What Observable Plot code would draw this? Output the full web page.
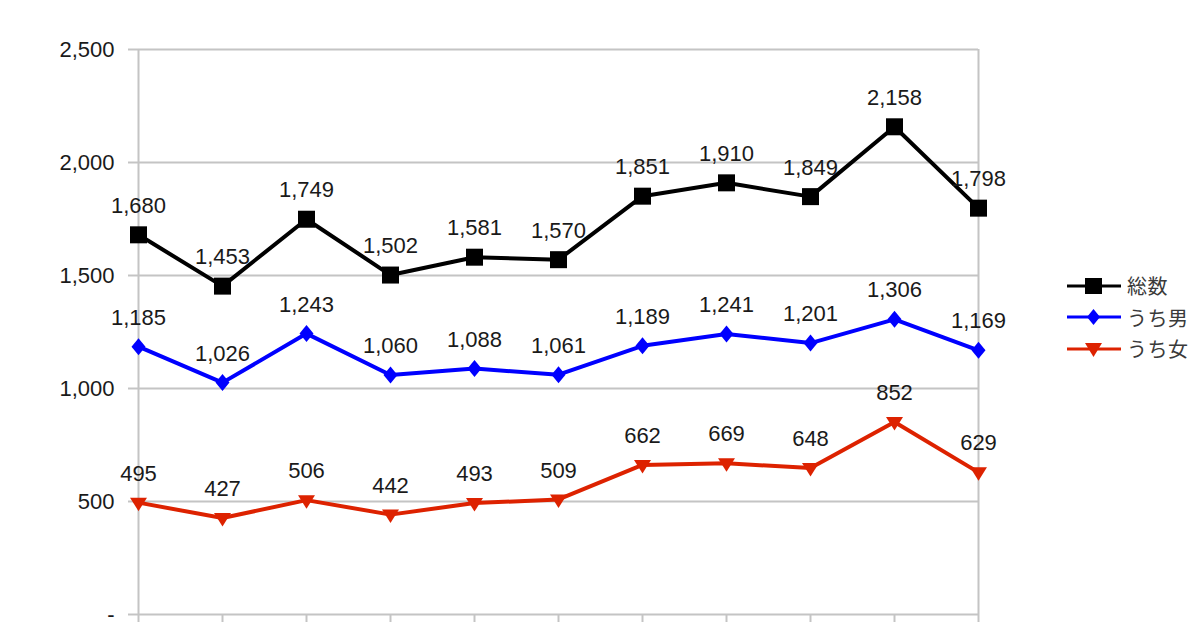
<!DOCTYPE html>
<html>
<head>
<meta charset="utf-8">
<script src="https://cdn.jsdelivr.net/npm/d3@7"></script>
<script src="https://cdn.jsdelivr.net/npm/@observablehq/plot@0.6"></script>
<style>
  body { margin: 0; background: #fff; font-family: "Liberation Sans", Arial, sans-serif; }
  #wrap { position: relative; width: 1200px; height: 627px; overflow: hidden; }
  #legend { position: absolute; left: 1067px; top: 270px; font-family: "Noto Sans CJK JP", sans-serif; font-size: 20px; color: #3a3a3a; letter-spacing: 0.5px; }
  #legend .row { display: flex; align-items: center; height: 31.5px; }
  #legend svg { margin-right: 5px; }
</style>
</head>
<body>
<div id="wrap"><div id="chart"></div><div id="legend"></div></div>
<script>
const categories = ["1","2","3","4","5","6","7","8","9","10","11"];
const total = [1680, 1453, 1749, 1502, 1581, 1570, 1851, 1910, 1849, 2158, 1798];
const male = [1185, 1026, 1243, 1060, 1088, 1061, 1189, 1241, 1201, 1306, 1169];
const female = [495, 427, 506, 442, 493, 509, 662, 669, 648, 852, 629];
const yTicks = [0, 500, 1000, 1500, 2000, 2500];
const seriesNames = ["総数", "うち男", "うち女"];
const seriesColors = ["#000000", "#0000ff", "#dd2200"];

const squareSym = { draw(ctx) { const h = 8.5; ctx.moveTo(-h, -h); ctx.lineTo(h, -h); ctx.lineTo(h, h); ctx.lineTo(-h, h); ctx.closePath(); } };
const diamondSym = { draw(ctx) { const w = 7, h = 8.5; ctx.moveTo(0, -h); ctx.lineTo(w, 0); ctx.lineTo(0, h); ctx.lineTo(-w, 0); ctx.closePath(); } };
const triSym = { draw(ctx) { const w = 8.5, t = 5, b = 8.5; ctx.moveTo(-w, -t); ctx.lineTo(w, -t); ctx.lineTo(0, b); ctx.closePath(); } };
const symbols = [squareSym, diamondSym, triSym];

const seriesValues = [total, male, female];
const rows = [];
seriesValues.forEach((vals, s) => vals.forEach((v, i) => rows.push({series: seriesNames[s], cat: categories[i], value: v})));

const fmt = d3.format(",");
const marks = [
  Plot.ruleY(yTicks.filter(d => d > 0), {stroke: "#c4c4c4", strokeWidth: 2}),
  Plot.ruleX([categories[0], categories[categories.length - 1]], {y1: 0, y2: 2500, stroke: "#c4c4c4", strokeWidth: 2}),
  Plot.ruleY([0], {stroke: "#c4c4c4", strokeWidth: 2}),
  Plot.axisY({ticks: yTicks, tickSize: 10, tickPadding: 14, tickFormat: d => d === 0 ? "-" : fmt(d), stroke: "#c4c4c4", strokeWidth: 2, fill: "#1a1a1a", fontSize: 22, label: null}),
  Plot.axisX({tickSize: 8, tickFormat: () => "", stroke: "#c4c4c4", strokeWidth: 2, label: null})
];
seriesNames.forEach((name, s) => {
  const data = rows.filter(r => r.series === name);
  marks.push(Plot.line(data, {x: "cat", y: "value", stroke: seriesColors[s], strokeWidth: 4}));
  marks.push(Plot.dot(data, {x: "cat", y: "value", fill: seriesColors[s], stroke: "none", symbol: () => symbols[s], r: 5}));
  marks.push(Plot.text(data, {x: "cat", y: "value", text: d => fmt(d.value), dy: -29, fill: "#1a1a1a", fontSize: 22}));
});

const chart = Plot.plot({
  width: 1200,
  height: 627,
  marginLeft: 138,
  marginRight: 222,
  marginTop: 49,
  marginBottom: 13,
  style: {fontFamily: "'Liberation Sans', Arial, sans-serif", background: "#fff", overflow: "visible"},
  x: {type: "point", domain: categories, padding: 0, axis: null},
  y: {domain: [0, 2500], axis: null},
  symbol: {type: "identity"},
  marks
});
document.getElementById("chart").appendChild(chart);

const legend = document.getElementById("legend");
const legendShapes = [
  '<rect x="18" y="3" width="17" height="16" />',
  '<path d="M26.5,3 L33,11 L26.5,19 L20,11 Z" />',
  '<path d="M18,5 L35,5 L26.5,19 Z" />'
];
seriesNames.forEach((name, s) => {
  const row = document.createElement("div");
  row.className = "row";
  row.innerHTML = `<svg width="55" height="22"><line x1="0" x2="54" y1="11" y2="11" stroke="${seriesColors[s]}" stroke-width="3"/><g fill="${seriesColors[s]}">${legendShapes[s]}</g></svg><span>${name}</span>`;
  legend.appendChild(row);
});
</script>
</body>
</html>
